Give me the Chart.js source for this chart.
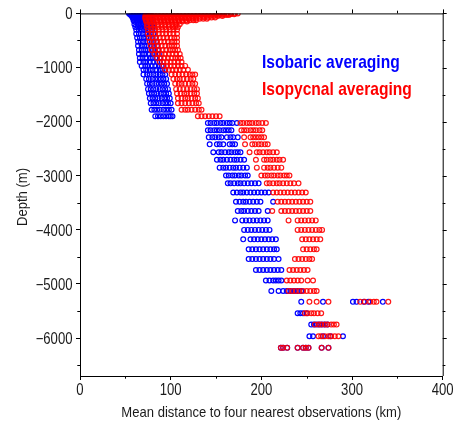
<!DOCTYPE html>
<html>
<head>
<meta charset="utf-8">
<script src="https://cdn.jsdelivr.net/npm/chart.js@4.4.1/dist/chart.umd.min.js"></script>
<style>
  html, body { margin: 0; padding: 0; background: #fff; }
</style>
</head>
<body>
<canvas id="chart" width="453" height="423"></canvas>
<script>
const upperDepths = [0, 15, 30, 50, 75, 100, 125, 150, 200, 250, 300, 375, 450, 525, 600, 675,
  750, 825, 900, 970, 1040, 1130, 1210, 1300, 1400, 1480, 1570, 1660, 1780, 1900];

const upperIsobaric = [
  [54, 57, 60, 63, 66, 69, 72, 75, 78],
  [55, 58, 61, 64, 67, 70, 73, 76, 78],
  [56, 59, 62, 65, 68, 71, 74, 77],
  [57, 60, 63, 66, 69, 72, 75, 77],
  [58, 61, 64, 67, 70, 73, 77],
  [59, 62, 65, 68, 71, 74, 78],
  [59, 62, 66, 69, 72, 75, 78],
  [60, 63, 66, 69, 72, 75, 78],
  [60, 64, 67, 70, 73, 76, 79],
  [61, 64, 67, 71, 74, 77, 80],
  [62, 65, 68, 71, 74, 77, 80],
  [62, 65, 69, 72, 75, 78, 81],
  [63, 66, 70, 73, 76, 80, 83],
  [64, 67, 70, 74, 77, 81, 84],
  [64, 68, 71, 74, 78, 81, 85],
  [65, 68, 72, 75, 79, 82, 86],
  [65, 69, 72, 76, 80, 83, 87],
  [66, 69, 73, 77, 80, 84, 88],
  [66, 70, 73, 77, 81, 85, 88],
  [68, 72, 75, 79, 83, 87, 90, 92],
  [70, 73, 77, 80, 84, 88, 91, 94],
  [70, 74, 77, 81, 84, 88, 91, 94],
  [73, 76, 80, 83, 86, 89, 92, 95],
  [74, 77, 80, 84, 87, 90, 93, 96],
  [75, 78, 81, 84, 88, 91, 94, 97],
  [76, 79, 82, 85, 89, 92, 95, 98],
  [77, 80, 83, 86, 90, 93, 96, 99],
  [78, 81, 84, 87, 91, 94, 97, 100],
  [79, 82, 85, 88, 92, 95, 98, 101],
  [83, 86, 89, 92, 95, 98, 100, 102]
];

const upperIsopycnal = [
  [75, 79, 83, 87, 91, 95, 99, 103, 107, 111, 115, 119, 123, 127, 131, 135, 139, 143, 147, 151, 155, 159, 163, 167, 171, 174],
  [74, 78, 82, 86, 90, 94, 98, 102, 106, 110, 114, 118, 122, 126, 130, 134, 138, 142, 146, 150, 154, 158, 162, 166, 170],
  [73, 77, 81, 85, 89, 93, 97, 101, 105, 109, 113, 117, 121, 125, 129, 133, 137, 141, 145, 149, 153, 157, 161, 164],
  [72, 76, 80, 84, 88, 92, 96, 100, 104, 108, 112, 116, 120, 124, 128, 132, 136, 140, 144, 148, 152, 157],
  [72, 76, 80, 84, 88, 92, 96, 100, 104, 108, 112, 116, 120, 124, 128, 132, 137, 141, 145, 149],
  [72, 76, 80, 84, 88, 92, 96, 100, 104, 108, 112, 116, 120, 124, 128, 132, 136, 140],
  [73, 77, 81, 85, 89, 93, 97, 101, 105, 109, 113, 117, 121, 125, 128],
  [73, 77, 81, 85, 89, 93, 97, 101, 105, 109, 113, 118],
  [74, 78, 82, 86, 90, 94, 98, 102, 106, 110],
  [74, 78, 82, 86, 90, 94, 98, 102, 105, 108],
  [75, 79, 83, 87, 91, 95, 99, 103, 107],
  [75, 79, 83, 87, 91, 95, 99, 103, 107],
  [76, 80, 84, 88, 92, 96, 100, 104, 107],
  [77, 81, 85, 89, 93, 97, 101, 104, 107],
  [78, 82, 86, 90, 94, 98, 101, 104, 107],
  [79, 83, 87, 91, 95, 99, 102, 105, 108],
  [82, 86, 90, 94, 98, 102, 106, 110],
  [85, 89, 93, 97, 101, 105, 108, 111],
  [88, 92, 96, 100, 104, 108, 112],
  [92, 96, 100, 104, 108, 112, 116],
  [94, 98, 102, 106, 110, 114, 119],
  [101, 105, 109, 113, 117, 121, 124, 127],
  [103, 107, 110, 114, 118, 122, 125],
  [105, 109, 112, 116, 120, 124, 127],
  [106, 110, 114, 118, 122, 126, 129],
  [107, 111, 115, 118, 122, 126, 129],
  [108, 112, 116, 119, 123, 127, 130],
  [108, 112, 116, 120, 124, 128, 131],
  [112, 116, 119, 123, 127, 131, 134],
  [130, 134, 138, 142, 146, 150, 154]
];

// deep levels (m) below 2000 m
const deepDepths = [2025, 2160, 2290, 2420, 2565, 2705, 2850, 2995, 3140, 3310, 3480, 3650,
  3825, 4000, 4175, 4360, 4540, 4740, 4935, 5130, 5330, 5540, 5750, 5965, 6180];

const deepIsobaric = [
  [141, 144, 148, 151, 155, 158, 162, 165, 168, 173],
  [141, 144, 148, 151, 154, 158, 161, 164, 167],
  [142, 146, 149, 153, 156, 162, 166, 169, 174],
  [143, 151, 154, 158, 165, 168, 171],
  [147, 153, 156, 160, 164, 167, 171, 174, 177],
  [151, 155, 158, 162, 166, 170, 173, 177, 181],
  [154, 158, 161, 165, 169, 172, 176, 180, 184],
  [161, 164, 168, 171, 175, 178, 182, 185],
  [163, 166, 170, 174, 177, 181, 185, 189, 193, 197],
  [169, 173, 177, 180, 184, 188, 192, 196, 200, 204, 208],
  [172, 176, 180, 183, 187, 191, 195, 199, 213],
  [174, 178, 181, 185, 189, 193, 197, 207],
  [171, 179, 183, 187, 191, 195, 199, 203, 207],
  [181, 185, 189, 193, 197, 201, 205, 209],
  [180, 188, 192, 196, 200, 204, 208, 212, 216],
  [186, 190, 194, 198, 202, 206, 210, 214, 217],
  [186, 190, 194, 198, 202, 206, 210, 214, 219],
  [194, 198, 202, 206, 210, 214, 218, 222],
  [205, 209, 213, 216, 219, 222],
  [211, 219, 224, 228, 232, 236, 240, 244],
  [244, 268, 301, 305, 313, 318, 334],
  [240, 243, 246, 250],
  [255, 258, 261, 264, 267, 270, 273],
  [253, 257, 268, 276, 290],
  [221.5, 224, 228.5, 240, 246, 249, 252, 266.5, 274]
];

const deepIsopycnal = [
  [177, 180, 184, 187, 190, 194, 197, 201, 205],
  [178, 181, 184, 188, 191, 194, 198, 201],
  [181, 188, 191, 194, 197, 200, 203],
  [182, 190, 193, 197, 200, 204, 207],
  [187, 195, 198, 202, 206, 209, 213, 217],
  [194, 203, 206, 210, 213, 217, 220, 224],
  [195, 203, 207, 210, 214, 218, 222],
  [200, 204, 207, 211, 214, 218, 221, 225, 228, 231],
  [206, 209, 213, 217, 220, 224, 228, 232, 236, 241],
  [213, 217, 221, 225, 229, 233, 237, 241, 245, 249],
  [218, 222, 226, 230, 234, 238, 242, 246, 250, 254],
  [212, 222, 226, 230, 234, 238, 242, 246, 250, 254],
  [230, 240, 244, 248, 252, 256, 260],
  [240, 244, 248, 252, 256, 260, 264, 267],
  [245, 249, 253, 257, 261, 265],
  [246, 250, 254, 258, 261],
  [237, 241, 245, 249, 253, 256],
  [231, 235, 239, 243, 247, 251],
  [228, 232, 236, 240, 244, 251, 257],
  [230, 234, 238, 242, 246, 250, 254, 258, 261],
  [253, 261, 274, 309, 314, 320, 324, 327, 340],
  [248, 251, 255, 258, 262, 266],
  [259, 263, 266, 270, 273, 277, 280, 283],
  [263, 266, 270, 274, 277, 281, 285],
  [221.5, 224, 228.5, 240, 246, 249, 252, 266.5, 274]
];

const distTicks = [0, 100, 200, 300, 400];
const depthTicks = [0, -1000, -2000, -3000, -4000, -5000, -6000];

const seriesNames = ['Isopycnal averaging', 'Isobaric averaging'];

function toPoints(depths, rows) {
  let pts = [];
  depths.forEach((d, i) => {
    rows[i].forEach(km => pts.push({ x: km, y: -d }));
  });
  return pts;
}

// the original uses a narrow sans; squeeze Liberation Sans sideways instead
const fontFamily = '"Liberation Sans", Arial, sans-serif';

function narrowText(ctx, text, x, y, squeeze, align) {
  ctx.save();
  ctx.translate(x, y);
  ctx.scale(squeeze, 1);
  ctx.textAlign = align;
  ctx.fillText(text, 0, 0);
  ctx.restore();
}

// top/right frame lines, minor ticks, tick labels, titles and the coloured labels
const decorations = {
  id: 'decorations',
  afterDraw(chart) {
    const ctx = chart.ctx;
    const a = chart.chartArea;
    const x = chart.scales.x, y = chart.scales.y;
    ctx.save();
    ctx.strokeStyle = '#000';
    ctx.lineWidth = 1;
    ctx.beginPath();
    ctx.moveTo(a.left, a.top + 0.5);
    ctx.lineTo(a.right + 0.5, a.top + 0.5);
    ctx.lineTo(a.right + 0.5, a.bottom);
    for (let v = 0; v <= 400; v += 50) {
      const px = Math.round(x.getPixelForValue(v)) + 0.5;
      const len = v % 100 ? 2.7 : 4;
      ctx.moveTo(px, a.top);
      ctx.lineTo(px, a.top - len);
      if (v % 100) {
        ctx.moveTo(px, a.bottom);
        ctx.lineTo(px, a.bottom + len);
      }
    }
    for (let v = 0; v >= -6500; v -= 500) {
      const py = Math.round(y.getPixelForValue(v)) + 0.5;
      const len = v % 1000 ? 2.7 : 4;
      ctx.moveTo(a.right, py);
      ctx.lineTo(a.right + len, py);
      if (v % 1000) {
        ctx.moveTo(a.left, py);
        ctx.lineTo(a.left - len, py);
      }
    }
    ctx.stroke();

    ctx.fillStyle = '#1a1a1a';
    ctx.textBaseline = 'alphabetic';
    ctx.font = '16px ' + fontFamily;
    distTicks.forEach(v => {
      narrowText(ctx, String(v), x.getPixelForValue(v), 395, 0.82, 'center');
    });
    depthTicks.forEach(v => {
      narrowText(ctx, String(v).replace('-', '\u2212'), 72.5, y.getPixelForValue(v) + 5.8, 0.82, 'right');
    });

    ctx.font = '15px ' + fontFamily;
    narrowText(ctx, 'Mean distance to four nearest observations (km)', (a.left + a.right) / 2, 416.5, 0.87, 'center');
    ctx.save();
    ctx.translate(22.5, 197);
    ctx.rotate(-Math.PI / 2);
    ctx.textBaseline = 'middle';
    narrowText(ctx, 'Depth (m)', 0, 0, 0.87, 'center');
    ctx.restore();

    ctx.font = 'bold 19px ' + fontFamily;
    ctx.fillStyle = '#0000ff';
    narrowText(ctx, seriesNames[1], 262, 68, 0.82, 'left');
    ctx.fillStyle = '#ff0000';
    narrowText(ctx, seriesNames[0], 262, 95, 0.82, 'left');
    ctx.restore();
  }
};

new Chart(document.getElementById('chart'), {
  type: 'scatter',
  data: {
    datasets: [{
      label: seriesNames[0],
      data: toPoints(upperDepths, upperIsopycnal).concat(toPoints(deepDepths, deepIsopycnal)),
      borderColor: 'rgba(255, 0, 0, 0.9)',
      backgroundColor: 'rgba(0, 0, 0, 0)',
      pointRadius: 2.4,
      pointBorderWidth: 1.2,
      order: 1
    }, {
      label: seriesNames[1],
      data: toPoints(upperDepths, upperIsobaric).concat(toPoints(deepDepths, deepIsobaric)),
      borderColor: '#0000ff',
      backgroundColor: 'rgba(0, 0, 0, 0)',
      pointRadius: 2.4,
      pointBorderWidth: 1.2,
      order: 2
    }]
  },
  options: {
    responsive: false,
    animation: false,
    layout: { padding: { top: 13.4, right: 10.3, left: 0, bottom: 0 } },
    plugins: { legend: { display: false }, tooltip: { enabled: false } },
    scales: {
      x: {
        type: 'linear',
        min: 0,
        max: 400,
        afterBuildTicks: s => { s.ticks = distTicks.map(v => ({ value: v })); },
        afterFit: s => { s.height = 47; s.paddingLeft = 0; s.paddingRight = 0; },
        grid: { drawOnChartArea: false, tickLength: 4, color: '#000' },
        border: { color: '#000', width: 1 },
        ticks: { display: false }
      },
      y: {
        type: 'linear',
        min: -6700,
        max: 0,
        afterBuildTicks: s => { s.ticks = depthTicks.map(v => ({ value: v })); },
        afterFit: s => { s.width = 80; s.paddingTop = 0; s.paddingBottom = 0; },
        grid: { drawOnChartArea: false, tickLength: 4, color: '#000' },
        border: { color: '#000', width: 1 },
        ticks: { display: false }
      }
    }
  },
  plugins: [decorations]
});
</script>
</body>
</html>
